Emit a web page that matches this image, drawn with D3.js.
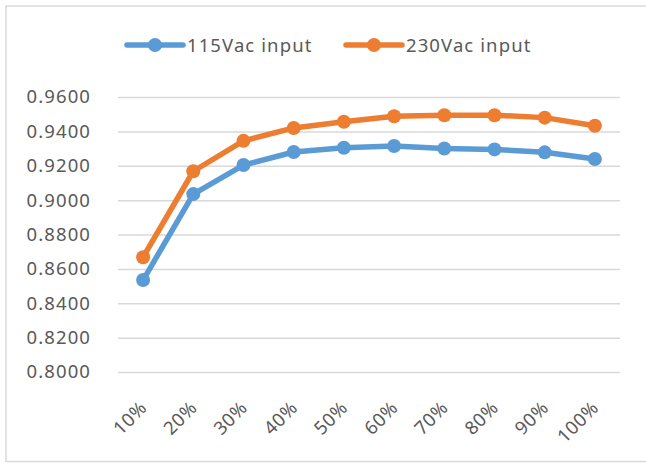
<!DOCTYPE html>
<html>
<head>
<meta charset="utf-8">
<script src="https://cdn.jsdelivr.net/npm/d3@7"></script>
<style>
  body { margin: 0; background: #fff; }
  text { font-family: "Noto Sans", sans-serif; fill: #595959; }
</style>
</head>
<body>
<div id="chart"></div>
<script>
// Data
const loads = ["10%", "20%", "30%", "40%", "50%", "60%", "70%", "80%", "90%", "100%"];
const eff115 = [0.8535, 0.9035, 0.9204, 0.9280, 0.9305, 0.9315, 0.9300, 0.9295, 0.9278, 0.9239];
const eff230 = [0.8668, 0.9168, 0.9345, 0.9420, 0.9456, 0.9488, 0.9494, 0.9494, 0.9480, 0.9433];
const yTicks = [0.80, 0.82, 0.84, 0.86, 0.88, 0.90, 0.92, 0.94, 0.96];
const seriesNames = ["115Vac input", "230Vac input"];
const seriesColors = ["#5B9BD5", "#ED7D31"];

const width = 646, height = 463;
const plot = {left: 118, right: 620, top: 97, bottom: 372};

const svg = d3.select("#chart")
  .append("svg")
  .attr("width", width)
  .attr("height", height);

// outer frame
svg.append("rect")
  .attr("x", 6).attr("y", 6)
  .attr("width", 660).attr("height", 455.5)
  .attr("fill", "#fff")
  .attr("stroke", "#d9d9d9")
  .attr("stroke-width", 1.5);

const x = d3.scaleBand()
  .domain(loads)
  .range([plot.left, plot.right])
  .padding(0);

const y = d3.scaleLinear()
  .domain([0.80, 0.96])
  .range([plot.bottom, plot.top]);

const cx = function(d) { return x(d) + x.bandwidth() / 2; };

// y axis with gridlines
const yAxis = svg.append("g")
  .attr("transform", "translate(" + plot.left + ",0)")
  .call(d3.axisLeft(y)
    .tickValues(yTicks)
    .tickSize(-(plot.right - plot.left))
    .tickPadding(27)
    .tickFormat(d3.format(".4f")));
yAxis.select(".domain").remove();
yAxis.selectAll("line")
  .attr("stroke", "#d9d9d9")
  .attr("stroke-width", 1.5);
yAxis.selectAll("text")
  .attr("fill", "#595959")
  .style("font-size", "18.5px")
  .style("letter-spacing", "1.1px")
  .style("font-family", "'Noto Sans', sans-serif");

// x labels, rotated
svg.append("g")
  .selectAll("text")
  .data(loads)
  .enter()
  .append("text")
  .attr("text-anchor", "end")
  .attr("transform", function(d) {
    return "translate(" + (cx(d) + 5) + ",409) rotate(-45)";
  })
  .style("font-size", "18.5px")
  .style("letter-spacing", "0.6px")
  .text(function(d) { return d; });

// series
const series = [eff115, eff230];
const line = d3.line()
  .x(function(d, i) { return cx(loads[i]); })
  .y(function(d) { return y(d); });

series.forEach(function(vals, s) {
  svg.append("path")
    .datum(vals)
    .attr("fill", "none")
    .attr("stroke", seriesColors[s])
    .attr("stroke-width", 5.5)
    .attr("stroke-linejoin", "round")
    .attr("d", line);

  svg.append("g")
    .selectAll("circle")
    .data(vals)
    .enter()
    .append("circle")
    .attr("cx", function(d, i) { return cx(loads[i]); })
    .attr("cy", function(d) { return y(d); })
    .attr("r", 7)
    .attr("fill", seriesColors[s]);
});

// legend
const legendX = [127, 346];
const legend = svg.append("g");
seriesNames.forEach(function(name, s) {
  const g = legend.append("g")
    .attr("transform", "translate(" + legendX[s] + ",45)");
  g.append("line")
    .attr("x1", 0).attr("x2", 56)
    .attr("stroke", seriesColors[s])
    .attr("stroke-width", 5.5)
    .attr("stroke-linecap", "round");
  g.append("circle")
    .attr("cx", 28).attr("r", 7)
    .attr("fill", seriesColors[s]);
  g.append("text")
    .attr("x", 60).attr("y", 6.5)
    .style("font-size", "18.5px")
    .style("letter-spacing", "1.1px")
    .text(name);
});
</script>
</body>
</html>
